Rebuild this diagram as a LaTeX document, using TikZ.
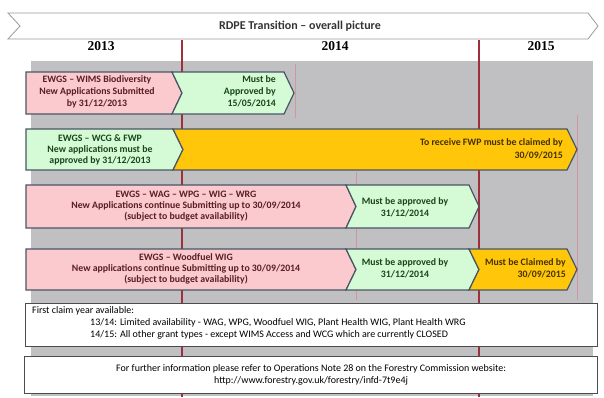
\documentclass[tikz,border=0pt]{standalone}
\usepackage{fontspec}
\setmainfont{Carlito}
\newfontfamily\yearfont{Liberation Serif}
\usetikzlibrary{positioning}

\definecolor{panelgrey}{RGB}{192,192,195}
\definecolor{pinkbox}{RGB}{250,202,206}
\definecolor{greenbox}{RGB}{212,250,214}
\definecolor{yellowbox}{RGB}{255,198,10}
\definecolor{edgeblue}{RGB}{72,86,100}
\definecolor{markred}{RGB}{158,48,62}
\definecolor{pinktext}{RGB}{90,30,35}
\definecolor{greentext}{RGB}{25,70,25}
\definecolor{yellowtext}{RGB}{70,50,0}

\tikzset{
  boxtext/.style={font=\bfseries\fontsize{9.8}{11}\selectfont, align=center, inner sep=0pt},
  yeartext/.style={font=\yearfont\bfseries\fontsize{13.5}{15}\selectfont},
  infobox/.style={draw=black!70, line width=1.2pt, fill=white, anchor=north west, inner sep=0pt},
  infotext/.style={font=\fontsize{10}{12}\selectfont, inner sep=0pt}
}

% chevron: x1, x2, y1, y2, fill, notch depth
\newcommand{\chevK}[6]{
\draw [edgeblue, line width=1.2pt, fill=#5] (#1,#3) -- ({#2-10},#3) -- (#2,{(#3+#4)/2})
  -- ({#2-10},#4) -- (#1,#4) -- ({#1+#6},{(#3+#4)/2}) -- cycle;
}

\begin{document}
\begin{tikzpicture}[x=1pt,y=-1pt]
\useasboundingbox (0,0) rectangle (604,397);

% banner and years
\draw [black!40, line width=0.8pt, fill=white] (8,13) -- (588,13) -- (598,26) -- (588,39) -- (8,39) -- (20,26) -- cycle;
\node (title) [font=\bfseries\fontsize{12}{14}\selectfont, text=black!80] at (300,26) {RDPE Transition -- overall picture};
\node (y2013) [yeartext] at (101,46) {2013};
\node (y2014) [yeartext] at (335,46) {2014};
\node (y2015) [yeartext] at (541,46) {2015};

% grey panel and year marks
\fill [panelgrey] (31,61) rectangle (593,396);
\draw [markred, line width=1.8pt] (182,40) -- (182,397);
\draw [markred, line width=1.8pt] (479,40) -- (479,397);
\draw [markred!50, line width=0.6pt] (295,64) -- (295,118);
\draw [markred!50, line width=0.6pt] (356,172) -- (356,300);
\draw [markred!50, line width=0.6pt] (577,115) -- (577,300);

% row 1
\chevK{26}{182}{72}{114}{pinkbox}{0}
\chevK{172}{294}{72}{114}{greenbox}{10}
\node (wimsbio) [boxtext, text=pinktext, font=\bfseries\fontsize{9.8}{12}\selectfont] at (97,92) {EWGS -- WIMS Biodiversity\\New Applications Submitted\\by 31/12/2013};
\node (wimsok) [boxtext, text=greentext, align=right, anchor=east, font=\bfseries\fontsize{9.8}{12}\selectfont] at (276,91) {Must be\\Approved by\\15/05/2014};

% row 2
\chevK{26}{183}{129}{170}{greenbox}{0}
\chevK{173}{577}{129}{170}{yellowbox}{10}
\node (wcgfwp) [boxtext, text=greentext] at (100,150) {EWGS -- WCG \& FWP\\New applications must be\\approved by 31/12/2013};
\node (fwpclaim) [boxtext, text=yellowtext, align=right, anchor=east, font=\bfseries\fontsize{9.8}{13}\selectfont] at (563,149) {To receive FWP must be claimed by\\30/09/2015};

% row 3
\chevK{26}{356}{185}{228}{pinkbox}{0}
\chevK{346}{479}{185}{228}{greenbox}{10}
\node (wagwrg) [boxtext, text=pinktext] at (186,206) {EWGS -- WAG -- WPG -- WIG -- WRG\\New Applications continue Submitting up to 30/09/2014\\(subject to budget availability)};
\node (wagok) [boxtext, text=greentext, font=\bfseries\fontsize{9.8}{12}\selectfont] at (405,207) {Must be approved by\\31/12/2014};

% row 4
\chevK{26}{356}{249}{290}{pinkbox}{0}
\chevK{346}{479}{249}{290}{greenbox}{10}
\chevK{469}{577}{249}{290}{yellowbox}{10}
\node (woodfuel) [boxtext, text=pinktext] at (186,269) {EWGS -- Woodfuel WIG\\New applications continue Submitting up to 30/09/2014\\(subject to budget availability)};
\node (woodok) [boxtext, text=greentext, font=\bfseries\fontsize{9.8}{12}\selectfont] at (405,268) {Must be approved by\\31/12/2014};
\node (woodclaim) [boxtext, text=yellowtext, align=right, anchor=east, font=\bfseries\fontsize{9.8}{12}\selectfont] at (566,268) {Must be Claimed by\\30/09/2015};

% info boxes
\node (claimbox) [infobox, minimum width=572pt, minimum height=43pt] at (25,303) {};
\node (claimhead) [infotext, anchor=west] at (32,311) {First claim year available:};
\node (claimlist) [infotext, anchor=north west, align=left] at (90,318) {13/14: Limited availability - WAG, WPG, Woodfuel WIG, Plant Health WIG, Plant Health WRG\\14/15: All other grant types - except WIMS Access and WCG which are currently CLOSED};

\node (infobox) [infobox, minimum width=573pt, minimum height=37pt] at (24,356) {};
\node (infolink) [infotext, align=center, font=\fontsize{10}{11.5}\selectfont] at (infobox.center) {For further information please refer to Operations Note 28 on the Forestry Commission website:\\http://www.forestry.gov.uk/forestry/infd-7t9e4j};
\end{tikzpicture}
\end{document}
